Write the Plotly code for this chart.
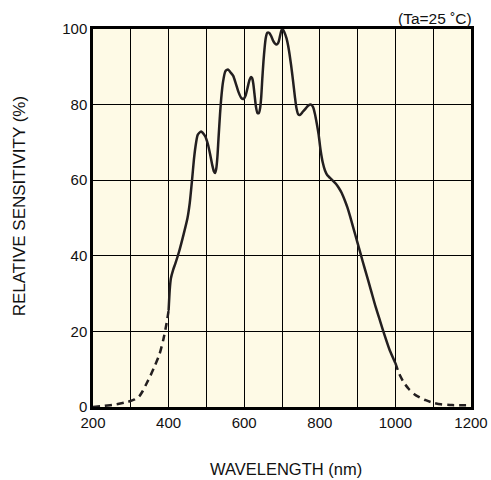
import plotly.graph_objects as go

# Solid part of the spectral sensitivity curve (wavelength nm, relative %)
solid_nm = [400, 403, 406, 412, 418, 428, 440, 450, 456, 462, 467, 471, 477, 486, 497,
            504, 510, 516, 520, 523, 526, 529, 532, 536, 540, 544, 550, 557, 564, 571,
            578, 585, 592, 598, 604, 609, 614, 618, 621, 624, 627, 631, 635, 639, 642,
            645, 648, 651, 654, 657, 661, 666, 671, 676, 681, 686, 690, 694, 698, 701,
            706, 712, 718, 724, 729, 734, 738, 743, 748, 755, 763, 770, 777, 782, 787,
            792, 797, 802, 808, 814, 820, 827, 835, 843, 850, 858, 866, 873, 880, 887,
            894, 903, 913, 923, 935, 948, 960, 972, 985, 1000]
solid_val = [25.5, 31.0, 34.0, 36.3, 38.0, 41.2, 45.8, 50.0, 54.0, 60.0, 65.5, 68.8, 72.0, 72.9, 71.6,
             69.5, 66.8, 63.8, 62.3, 61.9, 63.0, 66.0, 71.0, 77.4, 82.5, 86.0, 88.8, 89.3, 88.5, 87.6,
             85.5, 83.3, 81.8, 81.5, 82.5, 84.5, 86.5, 87.3, 87.0, 85.6, 83.0, 79.5, 77.8, 77.8, 79.0,
             82.0, 87.0, 91.5, 95.0, 97.6, 99.0, 99.0, 98.2, 97.0, 96.2, 95.9, 96.3, 97.8, 99.5, 100.0,
             99.2, 97.5, 94.6, 90.5, 86.5, 82.2, 79.2, 77.4, 77.3, 78.1, 79.0, 79.8, 80.0, 79.4, 77.6,
             75.0, 72.0, 68.0, 64.6, 62.5, 61.3, 60.6, 59.8, 59.0, 58.0, 56.6, 54.7, 52.8, 50.5, 48.0,
             45.5, 42.3, 38.7, 35.2, 31.0, 26.4, 22.6, 18.8, 15.0, 11.6]

# Dashed (extrapolated) tails
left_nm = [200, 230, 260, 290, 310, 322, 332, 342, 352, 364, 376, 386, 394, 400]
left_val = [0.0, 0.3, 0.7, 1.3, 2.0, 2.8, 4.3, 6.3, 8.3, 11.0, 14.0, 17.8, 21.8, 25.5]

right_nm = [1000, 1010, 1022, 1036, 1050, 1065, 1080, 1100, 1120, 1150, 1200]
right_val = [11.6, 8.8, 6.5, 4.7, 3.4, 2.5, 1.8, 1.1, 0.7, 0.5, 0.5]

x_ticks = [200, 400, 600, 800, 1000, 1200]
y_ticks = [0, 20, 40, 60, 80, 100]

LINE = "#231f20"
FONT = "Arial, 'Liberation Sans', sans-serif"

fig = go.Figure()
fig.add_trace(go.Scatter(x=left_nm, y=left_val, mode="lines",
                         line=dict(color=LINE, width=2.5, dash="7px,5px", shape="spline", smoothing=0.6),
                         hoverinfo="skip", showlegend=False))
fig.add_trace(go.Scatter(x=right_nm, y=right_val, mode="lines",
                         line=dict(color=LINE, width=2.5, dash="7px,5px", shape="spline", smoothing=0.6),
                         hoverinfo="skip", showlegend=False))
fig.add_trace(go.Scatter(x=solid_nm, y=solid_val, mode="lines",
                         line=dict(color=LINE, width=2.5, shape="spline", smoothing=0.6),
                         showlegend=False))

fig.update_layout(
    width=491, height=480,
    margin=dict(l=93, r=20, t=29, b=73, autoexpand=False),
    paper_bgcolor="white",
    plot_bgcolor="#fefae6",
    font=dict(family=FONT, size=15, color="#111111"),
    xaxis=dict(range=[200, 1200], tickvals=x_ticks, ticktext=[str(v) for v in x_ticks],
               showgrid=True, gridcolor="#000000", gridwidth=1,
               minor=dict(dtick=100, showgrid=True, gridcolor="#000000", gridwidth=1),
               showline=True, linecolor="#000000", linewidth=2.5, mirror=True,
               zeroline=False, ticks="", tickfont=dict(size=15), automargin=False),
    yaxis=dict(range=[0, 100], tickvals=y_ticks, ticktext=[str(v) for v in y_ticks],
               showgrid=True, gridcolor="#000000", gridwidth=1,
               showline=True, linecolor="#000000", linewidth=2.5, mirror=True,
               zeroline=False, ticks="", tickfont=dict(size=15), automargin=False),
    annotations=[
        dict(text="WAVELENGTH (nm)", xref="paper", yref="paper", x=0.51, y=-0.165,
             xanchor="center", yanchor="middle", showarrow=False, font=dict(size=16.5)),
        dict(text="RELATIVE SENSITIVITY (%)", xref="paper", yref="paper", x=-0.194, y=0.53,
             xanchor="center", yanchor="middle", showarrow=False, textangle=-90, font=dict(size=17)),
        dict(text="(Ta=25 ˚C)", xref="paper", yref="paper", x=1.0, y=1.0, yshift=11, xshift=3,
             xanchor="right", yanchor="middle", showarrow=False, font=dict(size=15.5)),
    ],
)

fig.write_html("out.html",
               config={"displayModeBar": False, "responsive": False},
               post_script="document.body.style.margin='0px';document.body.style.overflow='hidden';")
